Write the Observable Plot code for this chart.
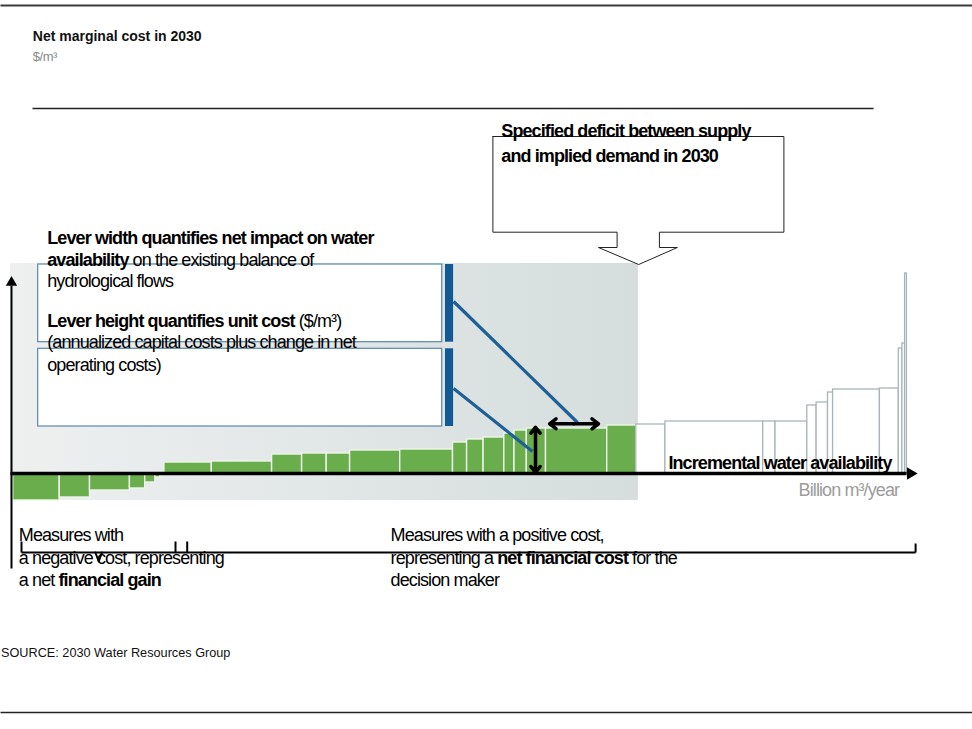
<!DOCTYPE html>
<html>
<head>
<meta charset="utf-8">
<script src="https://cdn.jsdelivr.net/npm/d3@7"></script>
<script src="https://cdn.jsdelivr.net/npm/@observablehq/plot@0.6"></script>
<style>
  html, body { margin: 0; padding: 0; background: #fff; }
  #chart svg { display: block; }
  g[aria-description="condensed"] text { letter-spacing: -0.9px; }
  g[aria-description="tight"] text { letter-spacing: -0.5px; }
</style>
</head>
<body>
<svg width="0" height="0" style="position:absolute">
  <defs>
    <linearGradient id="shadeGrad" x1="0" y1="0" x2="1" y2="0">
      <stop offset="0" stop-color="#eef0f0"/>
      <stop offset="1" stop-color="#d5dddd"/>
    </linearGradient>
  </defs>
</svg>
<div id="chart"></div>
<script>
// ---- Cost curve levers: width = billion m³/year, height = net cost $/m³ ----
const greenWidths = [15.5, 10.1, 13.3, 5.1, 3.4, 1.6, 1.4, 15.8, 20.1, 10.0, 8.2, 7.8, 16.7, 17.6, 4.7, 5.5, 6.9, 3.4, 4.1, 6.4, 20.4, 9.7];
const greenCosts  = [-0.27, -0.24, -0.17, -0.15, -0.09, -0.04, 0, 0.11, 0.12, 0.19, 0.20, 0.20, 0.23, 0.24, 0.31, 0.34, 0.36, 0.40, 0.43, 0.45, 0.45, 0.48];
const otherWidths = [9.7, 32.6, 4.1, 10.6, 3.1, 3.8, 1.7, 15.6, 6.3, 1.2, 0.9, 0.6];
const otherCosts  = [0.49, 0.52, 0.52, 0.52, 0.68, 0.71, 0.81, 0.84, 0.85, 1.25, 1.30, 2.00];

// ---- Annotation geometry (in data units: x = billion m³/year, y = $/m³) ----
const shadeZone   = [{x1: -0.9, x2: 208.4, y1: -0.27, y2: 2.10}];
const leverBoxes  = [{x1: 8.33, x2: 143.0, y1: 1.313, y2: 2.09}, {x1: 8.33, x2: 143.0, y1: 0.47, y2: 1.247}];
const leverBands  = [{x1: 144.1, x2: 146.8, y1: 1.313, y2: 2.09}, {x1: 144.1, x2: 146.8, y1: 0.47, y2: 1.247}];
const leverLinks  = [{x1: 146.8, y1: 1.72, x2: 188.1, y2: 0.51}, {x1: 146.8, y1: 0.85, x2: 173.1, y2: 0.22}];
const doubleArrows = [
  {x1: 186.9, y1: 0.497, x2: 178.8, y2: 0.497}, {x1: 186.9, y1: 0.497, x2: 195.1, y2: 0.497},
  {x1: 174.1, y1: 0.237, x2: 174.1, y2: 0.463}, {x1: 174.1, y1: 0.237, x2: 174.1, y2: 0.01}
];
const calloutShape = [
  {x: 159.9, y: 3.37}, {x: 256.9, y: 3.37}, {x: 256.9, y: 2.413}, {x: 215.4, y: 2.413},
  {x: 215.4, y: 2.26}, {x: 221.4, y: 2.26}, {x: 208.5, y: 2.09}, {x: 195.1, y: 2.26},
  {x: 201.3, y: 2.26}, {x: 201.3, y: 2.413}, {x: 159.9, y: 2.413}, {x: 159.9, y: 3.37}
];
const axisLines   = [{x1: -0.9, y1: 0, x2: 297.8, y2: 0, w: 3.5}, {x1: -0.57, y1: -0.95, x2: -0.57, y2: 1.88, w: 2}];
const axisHeads   = [{x: 299.1, y: 0, rot: 90}, {x: -0.57, y: 1.91, rot: 0}];
const bracketLines = [
  {x1: 2.77, y1: -0.79, x2: 300.8, y2: -0.79},
  {x1: 2.77, y1: -0.68, x2: 2.77, y2: -0.79},
  {x1: 54.1, y1: -0.68, x2: 54.1, y2: -0.79},
  {x1: 58.0, y1: -0.68, x2: 58.0, y2: -0.79},
  {x1: 300.8, y1: -0.70, x2: 300.8, y2: -0.79}
];
const bracketTip  = [{x: 27.4, y: -0.79}, {x: 28.5, y: -0.88}, {x: 29.6, y: -0.79}];
const frameLines  = [
  {x1: -4.233, y1: 4.68, x2: 319.767, y2: 4.68, w: 2},
  {x1: 6.43, y1: 3.65, x2: 286.8, y2: 3.65, w: 1.5},
  {x1: -4.233, y1: -2.39, x2: 319.767, y2: -2.39, w: 1.5}
];

// ---- Texts (** marks bold runs) ----
const headerTexts = [
  {text: "**Net marginal cost in 2030**", x: 6.53, y: 4.33}
];
const unitTexts = [
  {text: "$/m³", x: 6.53, y: 4.13}
];
const noteTexts = [
  {text: "**Lever width quantifies net impact on water**", x: 11.35, y: 2.30},
  {text: "**availability** on the existing balance of", x: 11.35, y: 2.08},
  {text: "hydrological flows", x: 11.35, y: 1.87},
  {text: "**Lever height quantifies unit cost** ($/m³)", x: 11.35, y: 1.47},
  {text: "(annualized capital costs plus change in net", x: 11.35, y: 1.253},
  {text: "operating costs)", x: 11.35, y: 1.03},
  {text: "**Specified deficit between supply**", x: 162.7, y: 3.365},
  {text: "**and implied demand in 2030**", x: 162.7, y: 3.12},
  {text: "**Incremental water availability**", x: 218.4, y: 0.05},
  {text: "Measures with", x: 1.87, y: -0.677},
  {text: "a negative cost, representing", x: 1.87, y: -0.90},
  {text: "a net **financial gain**", x: 1.87, y: -1.12},
  {text: "Measures with a positive cost,", x: 125.8, y: -0.677},
  {text: "representing a **net financial cost** for the", x: 125.8, y: -0.90},
  {text: "decision maker", x: 125.8, y: -1.12}
];
const axisUnitTexts = [
  {text: "Billion m³/year", x: 261.8, y: -0.22}
];
const sourceTexts = [
  {text: "SOURCE: 2030 Water Resources Group", x: -4.07, y: -1.83}
];

// ---- Build bar table (cumulative widths) ----
const bars = [];
let cum = 0;
greenWidths.forEach((w, i) => { bars.push({x1: cum, x2: cum + w, y1: 0, y2: greenCosts[i], group: "green"}); cum += w; });
otherWidths.forEach((w, i) => { bars.push({x1: cum, x2: cum + w, y1: 0, y2: otherCosts[i], group: "other"}); cum += w; });
const greenBars = bars.filter(d => d.group === "green");
const otherBars = bars.filter(d => d.group === "other");

const font = "'Liberation Sans', Arial, Helvetica, sans-serif";
const seg = {x1: "x1", y1: "y1", x2: "x2", y2: "y2"};

const chart = Plot.plot({
  width: 972,
  height: 729,
  marginTop: 0, marginRight: 0, marginBottom: 0, marginLeft: 0,
  x: {domain: [-4.233, 319.767], range: [0, 972], axis: null},
  y: {domain: [-2.56, 4.73], range: [729, 0], axis: null},
  style: {fontFamily: font, background: "#ffffff", overflow: "visible"},
  marks: [
    Plot.link(frameLines.filter(d => d.w === 2), {...seg, stroke: "#3a3a3a", strokeWidth: 2}),
    Plot.link(frameLines.filter(d => d.w !== 2), {...seg, stroke: "#222", strokeWidth: 1.5}),
    Plot.rect(shadeZone, {...seg, fill: "url(#shadeGrad)"}),
    Plot.rect(leverBoxes, {...seg, fill: "white", stroke: "#5a87a8", strokeWidth: 1.2}),
    Plot.rect(leverBands, {...seg, fill: "#135a94"}),
    Plot.line(calloutShape, {x: "x", y: "y", fill: "white", stroke: "#222", strokeWidth: 1}),
    Plot.rect(greenBars, {...seg, fill: "#69ad4c", stroke: "#eef5ea", strokeWidth: 1.4}),
    Plot.rect(otherBars, {...seg, fill: "white", stroke: "#a7b5b9", strokeWidth: 1.3}),
    Plot.link(leverLinks, {...seg, stroke: "#1d5f96", strokeWidth: 3.2}),
    Plot.arrow(doubleArrows, {...seg, stroke: "black", strokeWidth: 3.5, headLength: 9, headAngle: 75}),
    Plot.link(axisLines.filter(d => d.w > 3), {...seg, stroke: "black", strokeWidth: 3.5}),
    Plot.link(axisLines.filter(d => d.w <= 3), {...seg, stroke: "black", strokeWidth: 2}),
    Plot.dot(axisHeads.filter(d => d.rot === 90), {x: "x", y: "y", symbol: "triangle", r: 4.6, fill: "black", rotate: 90}),
    Plot.dot(axisHeads.filter(d => d.rot === 0), {x: "x", y: "y", symbol: "triangle", r: 4.2, fill: "black", rotate: 0}),
    Plot.link(bracketLines, {...seg, stroke: "black", strokeWidth: 2}),
    Plot.line(bracketTip, {x: "x", y: "y", stroke: "black", strokeWidth: 2}),
    Plot.text(headerTexts, {x: "x", y: "y", text: "text", textAnchor: "start", lineAnchor: "bottom", fontSize: 14, fill: "#111"}),
    Plot.text(unitTexts, {x: "x", y: "y", text: "text", textAnchor: "start", lineAnchor: "bottom", fontSize: 13, fill: "#8a8a8a", ariaDescription: "tight"}),
    Plot.text(noteTexts, {x: "x", y: "y", text: "text", textAnchor: "start", lineAnchor: "bottom", fontSize: 18, fill: "black", ariaDescription: "condensed"}),
    Plot.text(axisUnitTexts, {x: "x", y: "y", text: "text", textAnchor: "start", lineAnchor: "bottom", fontSize: 18, fill: "#9c9c9c", ariaDescription: "condensed"}),
    Plot.text(sourceTexts, {x: "x", y: "y", text: "text", textAnchor: "start", lineAnchor: "bottom", fontSize: 12.7, fill: "#111"})
  ]
});

// convert **bold** runs into tspans
chart.querySelectorAll("text").forEach(t => {
  const s = t.textContent;
  if (!s.includes("**")) return;
  while (t.firstChild) t.removeChild(t.firstChild);
  s.split("**").forEach((part, i) => {
    if (!part) return;
    const ts = document.createElementNS("http://www.w3.org/2000/svg", "tspan");
    if (i % 2 === 1) ts.setAttribute("font-weight", "bold");
    ts.textContent = part;
    t.appendChild(ts);
  });
});

document.getElementById("chart").appendChild(chart);
</script>
</body>
</html>
